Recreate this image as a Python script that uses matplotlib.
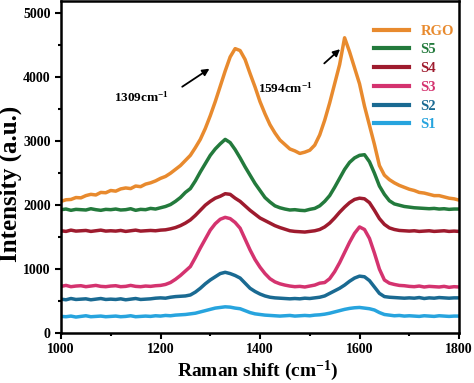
import numpy as np
import matplotlib
matplotlib.use('Agg')
import matplotlib.pyplot as plt

plt.rcParams['font.family'] = 'Liberation Serif'
plt.rcParams['font.weight'] = 'bold'
plt.rcParams['mathtext.fontset'] = 'custom'
plt.rcParams['mathtext.rm'] = 'Liberation Serif:bold'
plt.rcParams['mathtext.bf'] = 'Liberation Serif:bold'
plt.rcParams['mathtext.it'] = 'Liberation Serif:bold'

# Raman shift grid, 10 cm-1 steps
shift = np.arange(1000, 1801, 10)

rgo = [2060, 2085, 2090, 2120, 2115, 2150, 2170, 2160, 2200, 2195,
       2230, 2220, 2255, 2270, 2260, 2300, 2290, 2330, 2350, 2380,
       2420, 2450, 2500, 2560, 2620, 2700, 2780, 2900, 3030, 3200,
       3400, 3620, 3860, 4100, 4320, 4450, 4420, 4280, 4060, 3850,
       3620, 3430, 3260, 3130, 3020, 2950, 2880, 2850, 2810, 2830,
       2860, 2940, 3100, 3330, 3600, 3900, 4200, 4620, 4400, 4150,
       3900, 3550, 3250, 2950, 2620, 2470, 2400, 2350, 2310, 2280,
       2250, 2230, 2200, 2190, 2170, 2150, 2150, 2130, 2110, 2100,
       2080]
s5 = [1930, 1940, 1920, 1935, 1930, 1925, 1945, 1930, 1920, 1935,
      1930, 1940, 1925, 1930, 1945, 1920, 1935, 1930, 1950, 1940,
      1960, 1980, 2010, 2060, 2120, 2200, 2260, 2380, 2520, 2650,
      2780, 2880, 2960, 3030, 2980, 2870, 2740, 2600, 2470, 2340,
      2230, 2120, 2050, 1990, 1960, 1940, 1925, 1930, 1920, 1915,
      1935, 1950, 1990, 2060, 2150, 2280, 2420, 2560, 2670, 2740,
      2780, 2790, 2680, 2500, 2300, 2170, 2070, 2020, 2000, 1980,
      1970, 1960, 1955, 1950, 1945, 1950, 1940, 1945, 1935, 1940,
      1940]
s4 = [1600, 1590, 1610, 1595, 1600, 1605, 1590, 1600, 1610, 1595,
      1600, 1595, 1605, 1590, 1600, 1610, 1595, 1600, 1605, 1600,
      1610, 1615, 1630, 1650, 1680, 1720, 1770, 1840, 1920, 2000,
      2060, 2110, 2140, 2180, 2170, 2110, 2060, 1990, 1920, 1860,
      1800, 1760, 1720, 1680, 1650, 1625, 1600, 1590, 1585, 1580,
      1590, 1600, 1620, 1660, 1720, 1800, 1890, 1970, 2040, 2090,
      2110, 2100, 2040, 1920, 1790, 1700, 1645, 1620, 1605, 1600,
      1595, 1600, 1590, 1595, 1600, 1590, 1595, 1600, 1590, 1595,
      1590]
s3 = [730, 745, 725, 735, 740, 725, 735, 745, 730, 725,
      735, 740, 725, 730, 745, 730, 725, 735, 730, 740,
      745, 760, 790, 840, 900, 970, 1040, 1180, 1330, 1470,
      1610, 1710, 1780, 1810, 1790, 1730, 1640, 1470, 1300, 1150,
      1030, 930, 850, 800, 770, 750, 735, 725, 730, 720,
      735, 750, 780, 790, 850, 960, 1100, 1260, 1420, 1560,
      1660, 1620, 1480, 1250, 1000, 830, 780, 760, 745, 740,
      730, 725, 735, 720, 730, 725, 720, 730, 715, 725,
      720]
s2 = [530, 520, 540, 525, 530, 535, 520, 530, 540, 525,
      530, 525, 535, 520, 530, 540, 525, 530, 535, 545,
      550, 545, 560, 570, 575, 580, 595, 640, 700, 770,
      830, 880, 930, 950, 930, 900, 860, 780, 700, 650,
      610, 580, 560, 550, 545, 540, 535, 540, 535, 545,
      540, 550, 560, 580, 620, 660, 700, 750, 810, 860,
      890, 880, 820, 720, 620, 570, 560, 555, 550, 545,
      550, 545, 555, 540, 550, 545, 555, 550, 545, 550,
      550]
s1 = [260, 255, 265, 250, 260, 270, 255, 260, 265, 255,
      260, 265, 255, 260, 270, 255, 260, 265, 260, 270,
      265, 275, 270, 280, 285, 290, 300, 310, 330, 350,
      370, 390, 400, 410, 405, 390, 380, 350, 320, 300,
      290, 280, 275, 270, 265, 270, 275, 265, 270, 275,
      270, 280, 285, 295, 310, 330, 350, 370, 385, 395,
      400, 390, 380, 360, 320, 290, 280, 270, 275, 265,
      270, 265, 260, 270, 265, 260, 270, 265, 260, 265,
      265]

labels = ['RGO', 'S5', 'S4', 'S3', 'S2', 'S1']
colors = ['#E88A2E', '#237A3C', '#9E1B2E', '#D4336F', '#1A6A92', '#27A4DE']
series = [rgo, s5, s4, s3, s2, s1]

fig = plt.figure(figsize=(4.74, 3.83), dpi=100)
ax = fig.add_axes([0.1287, 0.1305, 0.8397, 0.866])

for y, c, lab in zip(series, colors, labels):
    ax.plot(shift, y, color=c, lw=2.5, label=lab)

ax.set_xlim(1000, 1800)
ax.set_ylim(0, 5190)
ax.set_xticks([1000, 1200, 1400, 1600, 1800])
ax.set_xticks([1100, 1300, 1500, 1700], minor=True)
ax.set_yticks([0, 1000, 2000, 3000, 4000, 5000])
ax.set_yticks([500, 1500, 2500, 3500, 4500], minor=True)
ax.tick_params(which='major', direction='out', length=4, width=1.5, labelsize=10)
ax.tick_params(which='minor', direction='out', length=2, width=1.5)
for s in ax.spines.values():
    s.set_linewidth(1.8)

ax.set_xlabel(r'Raman shift (cm$^{-1}$)', fontsize=14, fontweight='bold')
ax.set_ylabel('Intensity (a.u.)', fontsize=18, fontweight='bold')
ax.xaxis.set_label_coords(0.495, -0.076)
ax.yaxis.set_label_coords(-0.098, 0.45)

ax.annotate('', xy=(1303, 4160), xytext=(1239, 3830),
            arrowprops=dict(arrowstyle='-|>', color='k', lw=1.3, mutation_scale=10))
ax.text(1161, 3690, r'1309cm$^{-1}$', fontsize=9.5, fontweight='bold', ha='center', va='center')
ax.annotate('', xy=(1565, 4470), xytext=(1525, 4190),
            arrowprops=dict(arrowstyle='-|>', color='k', lw=1.3, mutation_scale=10))
ax.text(1450, 3830, r'1594cm$^{-1}$', fontsize=9.5, fontweight='bold', ha='center', va='center')

leg = ax.legend(loc='upper right', bbox_to_anchor=(1.02, 0.97), frameon=False,
                fontsize=10.5, handlelength=2.4, handletextpad=0.8, labelspacing=0.38)
for t, c in zip(leg.get_texts(), colors):
    t.set_color(c)
for h in leg.get_lines():
    h.set_linewidth(3)

fig.savefig('out.png', dpi=100)
